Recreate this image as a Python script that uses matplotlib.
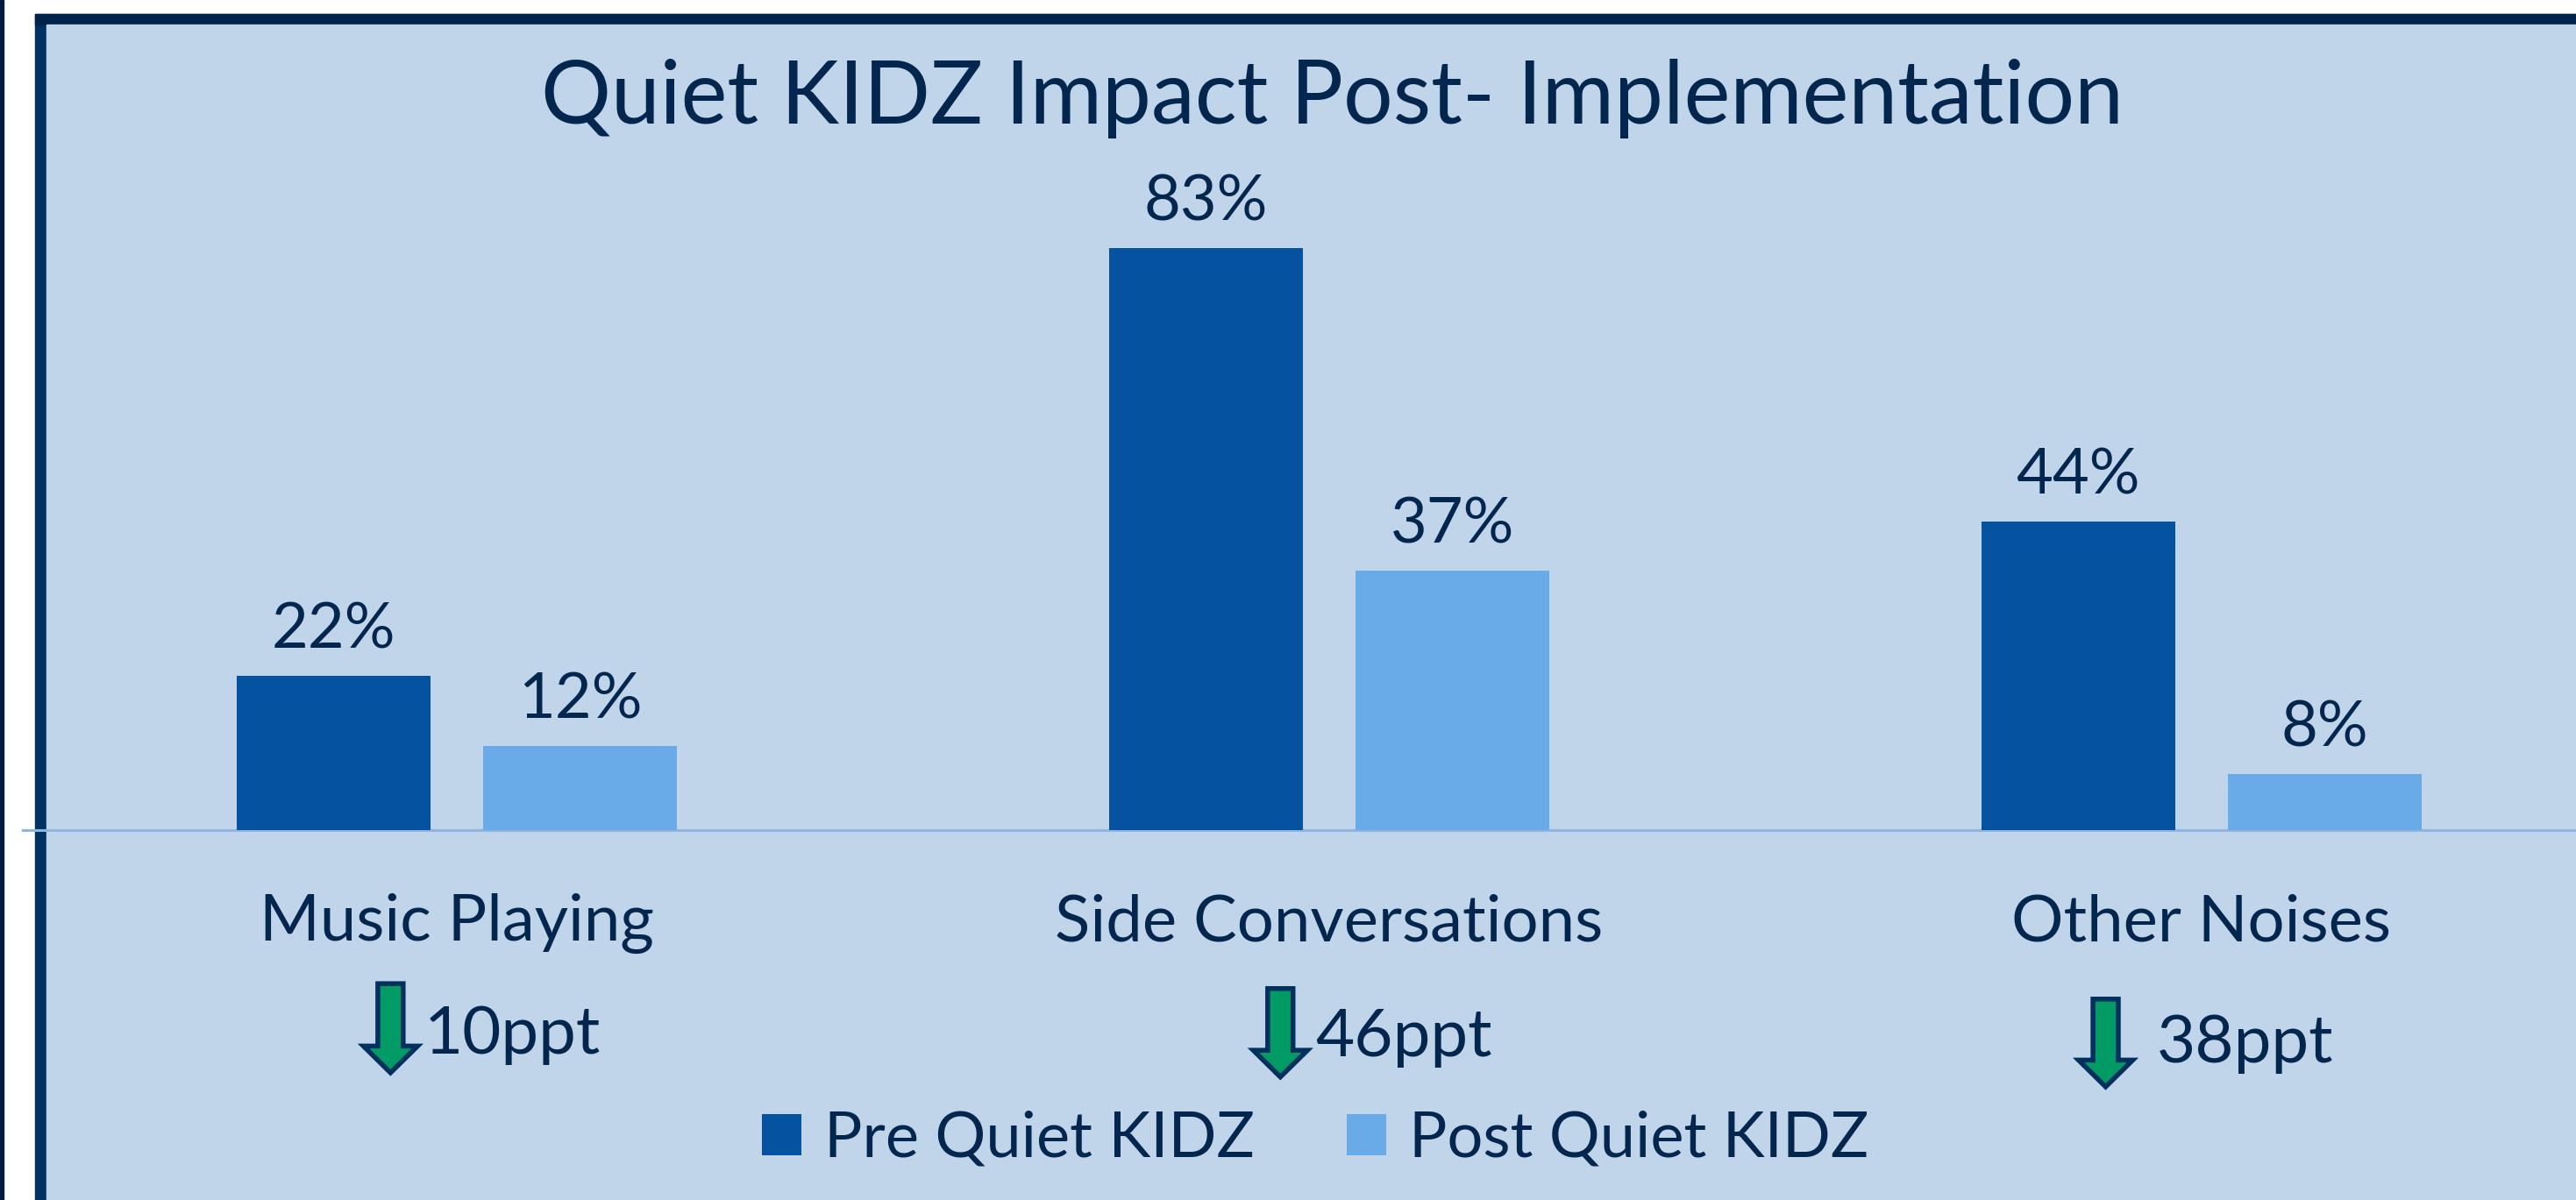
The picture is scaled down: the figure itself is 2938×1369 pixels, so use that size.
import matplotlib.pyplot as plt
from matplotlib.patches import Rectangle, FancyArrow

plt.rcParams["font.family"] = ["Lato", "DejaVu Sans"]

# data
categories = ["Music Playing", "Side Conversations", "Other Noises"]
pre = [22, 83, 44]
post = [12, 37, 8]
drops = ["10ppt", "46ppt", "38ppt"]
series_names = ["Pre Quiet KIDZ", "Post Quiet KIDZ"]

# layout tweaks for the "down arrow + ppt" annotations (offset from group centre)
arrow_dx = [-0.076, -0.056, -0.110]
text_dx = [-0.037, -0.016, -0.052]
arrow_top = [-21.9, -22.6, -24.1]
arrow_tip = [-34.6, -35.2, -36.6]
text_y = [-31.9, -32.3, -33.1]

BG = "#C0D5EA"
NAVY = "#02264D"
PRE_C = "#0452A0"
POST_C = "#69AAE8"
GREEN = "#039B65"

W, H = 2938, 1369
fig = plt.figure(figsize=(W / 100, H / 100), dpi=100, facecolor="white")

# frame: thin strip at far left, panel with navy border (drawn under the axes)
frame = [
    ((0, 0), 4 / W, 1, "#001A3A"),
    ((40 / W, -0.01), 1, (H - 16) / H + 0.01, "#003262"),
    ((40 / W, (H - 28) / H), 1, 12 / H, "#00234C"),
    ((53 / W, -0.01), 1, (H - 28) / H + 0.01, BG),
]
for xy, w, h, c in frame:
    fig.patches.append(Rectangle(xy, w, h, transform=fig.transFigure, color=c, zorder=-5))

ax = fig.add_axes([0, 0, 1, 1])
ax.set_zorder(1)
ax.patch.set_alpha(0)
ax.set_axis_off()
ax.set_xlim(-521 / 995, (W - 521) / 995)
ax.set_ylim(-422 / 8, (H - 422) / 8)

x = list(range(len(categories)))
width = 0.222
off = 0.1415
b1 = ax.bar([i - off for i in x], pre, width, color=PRE_C, label=series_names[0], zorder=3)
b2 = ax.bar([i + off for i in x], post, width, color=POST_C, label=series_names[1], zorder=3)
ax.axhline(0, xmin=26 / W, xmax=1, color="#8DB4E2", lw=2.2, zorder=2)

for bars in (b1, b2):
    for r in bars:
        v = r.get_height()
        ax.text(r.get_x() + r.get_width() / 2, v + 4, f"{v:.0f}%", ha="center",
                va="baseline", fontsize=52, color=NAVY, zorder=4)

for i, cat in enumerate(categories):
    ax.text(i, -15.75, cat, ha="center", va="baseline", fontsize=53.5, color=NAVY)
    ax.add_patch(FancyArrow(i + arrow_dx[i], arrow_top[i], 0, arrow_tip[i] - arrow_top[i],
                            width=0.029, head_width=0.062, head_length=3.8,
                            length_includes_head=True, facecolor=GREEN,
                            edgecolor="#00305E", lw=4, joinstyle="miter", zorder=4))
    ax.text(i + text_dx[i], text_y[i], drops[i], ha="left", va="baseline",
            fontsize=55, color=NAVY)

fig.text(0.517, 0.897, "Quiet KIDZ Impact Post- Implementation", ha="center",
         va="baseline", fontsize=72, color=NAVY)

ax.legend(handles=[b1, b2], loc="center", bbox_to_anchor=(0.5106, 0.0511),
          bbox_transform=fig.transFigure, ncol=2, frameon=False, fontsize=52,
          labelcolor=NAVY, handlelength=0.625, handleheight=0.625,
          handletextpad=0.36, columnspacing=1.46)

fig.savefig("out.png", dpi=100, facecolor="white")
